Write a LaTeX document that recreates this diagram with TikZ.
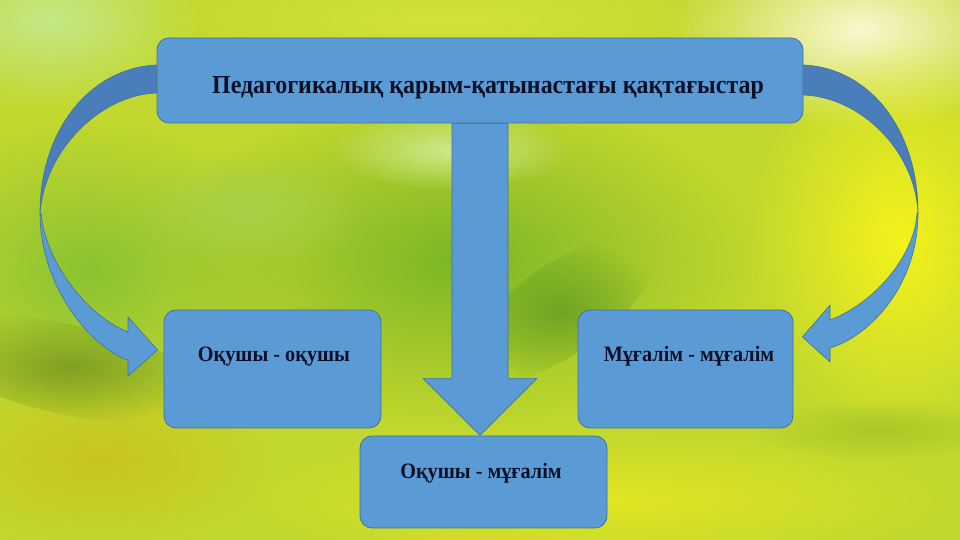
\documentclass[tikz,border=0pt]{standalone}
\usepackage{fontspec}
\setmainfont{Liberation Serif}
\newfontfamily\narrowserif[FakeStretch=0.92]{Liberation Serif}
\usetikzlibrary{backgrounds,fadings}
\definecolor{boxfill}{HTML}{5B9BD5}
\definecolor{boxline}{HTML}{41719C}
\definecolor{backfill}{HTML}{4A7EBB}
\definecolor{inkblue}{HTML}{0A0F28}
% photo tones
\definecolor{bgbase}{RGB}{194,216,46}
\definecolor{bglight}{RGB}{196,232,136}
\definecolor{bgtop}{RGB}{212,226,60}
\definecolor{bgwhite}{RGB}{250,248,208}
\definecolor{bgyellow}{RGB}{244,242,28}
\definecolor{bggreen}{RGB}{138,194,50}
\definecolor{bgmid}{RGB}{124,182,38}
\definecolor{bgsoft}{RGB}{166,208,72}
\definecolor{bgglow}{RGB}{204,234,140}
\definecolor{bgolive}{RGB}{200,196,32}
\definecolor{bgbottom}{RGB}{226,230,34}
\definecolor{bgdark}{RGB}{128,160,34}
\definecolor{bgstreak}{RGB}{112,164,36}
\definecolor{bgright}{RGB}{168,200,40}
\tikzfading[name=softblob, inner color=transparent!0, outer color=transparent!100]
\tikzset{
  box/.style = {draw=boxline, fill=boxfill, line width=0.8pt,
    rounded corners=12pt, inner sep=0pt},
  boxtext/.style = {text=inkblue, inner sep=0pt, anchor=base,
    font=\narrowserif\bfseries\fontsize{22}{26}\selectfont},
  bigtext/.style = {boxtext, font=\narrowserif\bfseries\fontsize{26}{30}\selectfont},
  body/.style = {draw=boxline, fill=boxfill, line width=0.6pt, line join=round},
  back/.style = {draw=boxline, fill=backfill, line width=0.6pt},
  blob/.style = {path fading=softblob}
}

\begin{document}
\begin{tikzpicture}[x=1pt,y=1pt]
  \useasboundingbox (0,0) rectangle (960,540);

  % boxes
  \node[box, minimum width=646pt, minimum height=85pt] (title) at (480,459.5) {};
  \node[box, minimum width=217pt, minimum height=118pt] (pp) at (272.5,171) {};
  \node[box, minimum width=215pt, minimum height=118pt] (tt) at (685.5,171) {};
  \node[box, minimum width=247pt, minimum height=92pt] (pt) at (483.5,58) {};

  \node[bigtext] (titletext) at ([xshift=8pt,yshift=-13.5pt]title.center)
    {Педагогикалық қарым-қатынастағы қақтағыстар};
  \node[boxtext] (pptext) at ([xshift=1.5pt,yshift=7pt]pp.center) {Оқушы - оқушы};
  \node[boxtext] (tttext) at ([xshift=3.5pt,yshift=7pt]tt.center) {Мұғалім - мұғалім};
  \node[boxtext] (pttext) at ([xshift=-2.5pt,yshift=3pt]pt.center) {Оқушы - мұғалім};

  % blurred photo behind everything
  \begin{scope}[on background layer]
    \clip (0,0) rectangle (960,540);
    \fill[bgbase] (0,0) rectangle (960,540);
    \fill[bglight, blob] (50,520) ellipse [x radius=150pt, y radius=90pt];
    \fill[bgtop, blob] (450,520) ellipse [x radius=300pt, y radius=60pt];
    \fill[bgwhite, blob] (860,510) ellipse [x radius=190pt, y radius=100pt];
    \fill[bgyellow, blob] (900,300) ellipse [x radius=150pt, y radius=200pt];
    \fill[bggreen, blob] (90,270) ellipse [x radius=200pt, y radius=150pt];
    \fill[bgmid, blob] (460,280) ellipse [x radius=300pt, y radius=170pt];
    \fill[bgsoft, blob] (250,330) ellipse [x radius=120pt, y radius=60pt];
    \fill[bgglow, blob] (450,390) ellipse [x radius=120pt, y radius=40pt];
    \fill[bgolive, blob] (100,80) ellipse [x radius=180pt, y radius=90pt];
    \fill[bgbottom, blob] (600,40) ellipse [x radius=350pt, y radius=70pt];
    \fill[bgdark, blob, rotate around={-12:(70,170)}] (70,170) ellipse [x radius=150pt, y radius=45pt];
    \fill[bgstreak, blob, rotate around={35:(560,230)}] (560,230) ellipse [x radius=110pt, y radius=45pt];
    \fill[bgright, blob] (880,110) ellipse [x radius=130pt, y radius=30pt];
  \end{scope}

  % arrows
  \begin{scope}[on background layer]
    \draw[body] ([xshift=-28pt]title.south) -- ++(0,-255) -- ++(-29,0) -- ++(57,-57)
      -- ++(57,57) -- ++(-29,0) -- ([xshift=28pt]title.south) -- cycle;
    % left
    \draw[back] ([yshift=15.5pt]title.west) .. controls (90,472) and (40,410) .. (40,327)
      .. controls (45,390) and (100,445) .. ([yshift=-12.5pt]title.west) -- cycle;
    \draw[body] (40,327) .. controls (40,250) and (95,190) .. (128,180) -- (128,164)
      -- ([xshift=-6pt,yshift=19pt]pp.west) -- (128,223) -- (128,208)
      .. controls (85,225) and (45,280) .. (41,327) -- cycle;
    % right
    \draw[back] ([yshift=15.5pt]title.east) .. controls (870,472) and (918,410) .. (918,327)
      .. controls (915,390) and (860,443) .. ([yshift=-14.5pt]title.east) -- cycle;
    \draw[body] (918,327) .. controls (918,250) and (865,202) .. (830,192) -- (830,178)
      -- ([xshift=9pt,yshift=32pt]tt.east) -- (830,235) -- (830,220)
      .. controls (875,237) and (915,285) .. (917,327) -- cycle;
  \end{scope}
\end{tikzpicture}
\end{document}
